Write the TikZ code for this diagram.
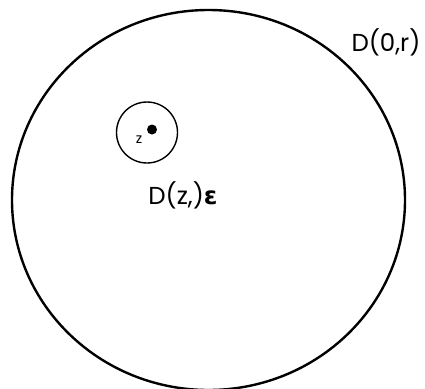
\documentclass[tikz,border=0pt]{standalone}
\usepackage{fontspec}
\setmainfont{Poppins}
\newfontfamily\grkfont{DejaVu Sans}
\usepackage{tikz}
\tikzset{every node/.style={font=\fontsize{24.5}{28}\selectfont},bigdisk/.style={line width=2.4pt},smalldisk/.style={line width=1.4pt},ptlabel/.style={font=\fontsize{14}{16}\selectfont}}

\begin{document}
\begin{tikzpicture}[x=1pt,y=-1pt]
\useasboundingbox (0,0) rectangle (425,388);
\draw[bigdisk] (208.5,200) ellipse (196.5 and 190);
\draw[smalldisk] (147,132.5) circle (30.5);
\fill (152,129.5) circle (5);
\node[ptlabel] (z) at (139,140) {z};
\node (dzeps) at (183,195) {D(z,){\grkfont\bfseries ε}};
\node (dzero) at (386,42) {D(0,r)};
\end{tikzpicture}
\end{document}
